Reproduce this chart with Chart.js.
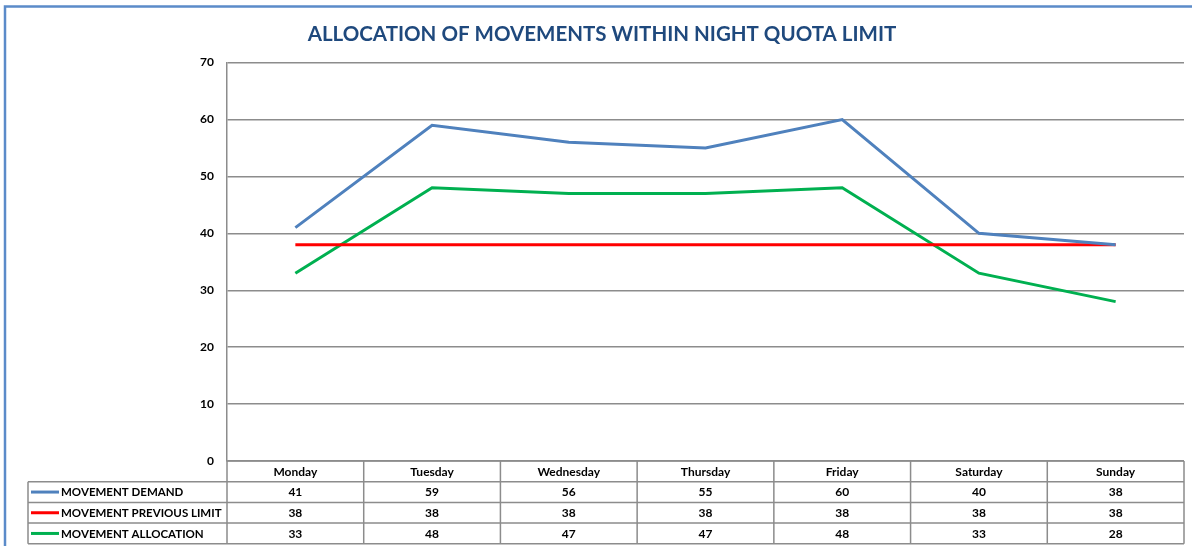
<!DOCTYPE html>
<html>
<head>
<meta charset="utf-8">
<script src="https://cdn.jsdelivr.net/npm/chart.js@4"></script>
<style>
  html, body { margin: 0; padding: 0; background: #fff; }
  #wrap { position: relative; width: 1192px; height: 546px; }
</style>
</head>
<body>
<div id="wrap"><canvas id="quotaChart" width="1192" height="546"></canvas></div>
<script>
const days = ['Monday', 'Tuesday', 'Wednesday', 'Thursday', 'Friday', 'Saturday', 'Sunday'];
const demand = [41, 59, 56, 55, 60, 40, 38];
const previousLimit = [38, 38, 38, 38, 38, 38, 38];
const allocation = [33, 48, 47, 47, 48, 33, 28];
const seriesNames = ['MOVEMENT DEMAND', 'MOVEMENT PREVIOUS LIMIT', 'MOVEMENT ALLOCATION'];
const seriesColors = ['#4F81BD', '#FF0000', '#00B050'];
const yTicks = [0, 10, 20, 30, 40, 50, 60, 70];

const fontFam = 'Lato, "Open Sans", sans-serif';

// data table + outer frame, drawn under the plot
const dataTable = {
  id: 'dataTable',
  afterDraw(chart) {
    const c = chart.ctx;
    const area = chart.chartArea;
    const x = chart.scales.x;
    const step = (area.right - area.left) / days.length;
    const rowH = 20.7;
    const top = area.bottom;
    const labelLeft = 28;
    const rows = [demand, previousLimit, allocation];

    c.save();
    // frame
    c.strokeStyle = '#5B8BC9';
    c.lineWidth = 2.5;
    c.beginPath();
    c.moveTo(5, 546);
    c.lineTo(5, 6.5);
    c.lineTo(1192, 6.5);
    c.stroke();

    c.strokeStyle = '#8C8C8C';
    c.lineWidth = 1.5;
    c.beginPath();
    c.moveTo(area.left, top); c.lineTo(area.right, top);
    for (let r = 1; r <= 4; r++) {
      const y = top + rowH * r;
      c.moveTo(labelLeft, y); c.lineTo(area.right, y);
    }
    c.moveTo(labelLeft, top + rowH); c.lineTo(labelLeft, top + rowH * 4);
    for (let i = 0; i <= days.length; i++) {
      const vx = area.left + step * i;
      c.moveTo(vx, top); c.lineTo(vx, top + rowH * 4);
    }
    c.stroke();

    c.font = 'bold 12px ' + fontFam;
    c.fillStyle = '#000';
    c.textAlign = 'center';
    c.textBaseline = 'middle';
    days.forEach((d, i) => {
      const cx = x.getPixelForValue(i);
      c.fillText(d, cx, top + rowH * 0.5 + 0.5);
      rows.forEach((vals, r) => {
        c.fillText(String(vals[i]), cx, top + rowH * (r + 1.5) + 0.5);
      });
    });

    c.font = 'bold 11.5px ' + fontFam;
    c.textAlign = 'left';
    seriesNames.forEach((name, r) => {
      const y = top + rowH * (r + 1.5);
      c.strokeStyle = seriesColors[r];
      c.lineWidth = 3;
      c.beginPath();
      c.moveTo(31, y); c.lineTo(59, y);
      c.stroke();
      c.fillText(name, 61, y + 0.5);
    });
    c.restore();
  }
};

new Chart(document.getElementById('quotaChart'), {
  type: 'line',
  data: {
    labels: days,
    datasets: [demand, previousLimit, allocation].map((vals, i) => ({
      label: seriesNames[i],
      data: vals,
      borderColor: seriesColors[i],
      backgroundColor: seriesColors[i],
      borderWidth: 3,
      pointRadius: 0,
      tension: 0,
      fill: false
    }))
  },
  options: {
    responsive: false,
    animation: false,
    layout: { padding: { left: 20, right: 8, top: 12, bottom: 85 } },
    plugins: {
      legend: { display: false },
      tooltip: { enabled: false },
      title: {
        display: true,
        text: 'ALLOCATION OF MOVEMENTS WITHIN NIGHT QUOTA LIMIT',
        color: '#1F497D',
        font: { family: fontFam, size: 20.5, weight: 'bold' },
        padding: { top: 10, bottom: 16 }
      }
    },
    scales: {
      x: {
        display: false,
        offset: true
      },
      y: {
        min: 0,
        max: 70,
        afterBuildTicks(scale) { scale.ticks = yTicks.map(v => ({ value: v })); },
        afterFit(scale) { scale.width = 207; },
        grid: { color: '#8C8C8C', lineWidth: 1.5, drawTicks: false },
        border: { display: true, color: '#8C8C8C', width: 1.5 },
        ticks: {
          padding: 13,
          color: '#000',
          font: { family: fontFam, size: 12, weight: 'bold' }
        }
      }
    }
  },
  plugins: [dataTable]
});
</script>
</body>
</html>
